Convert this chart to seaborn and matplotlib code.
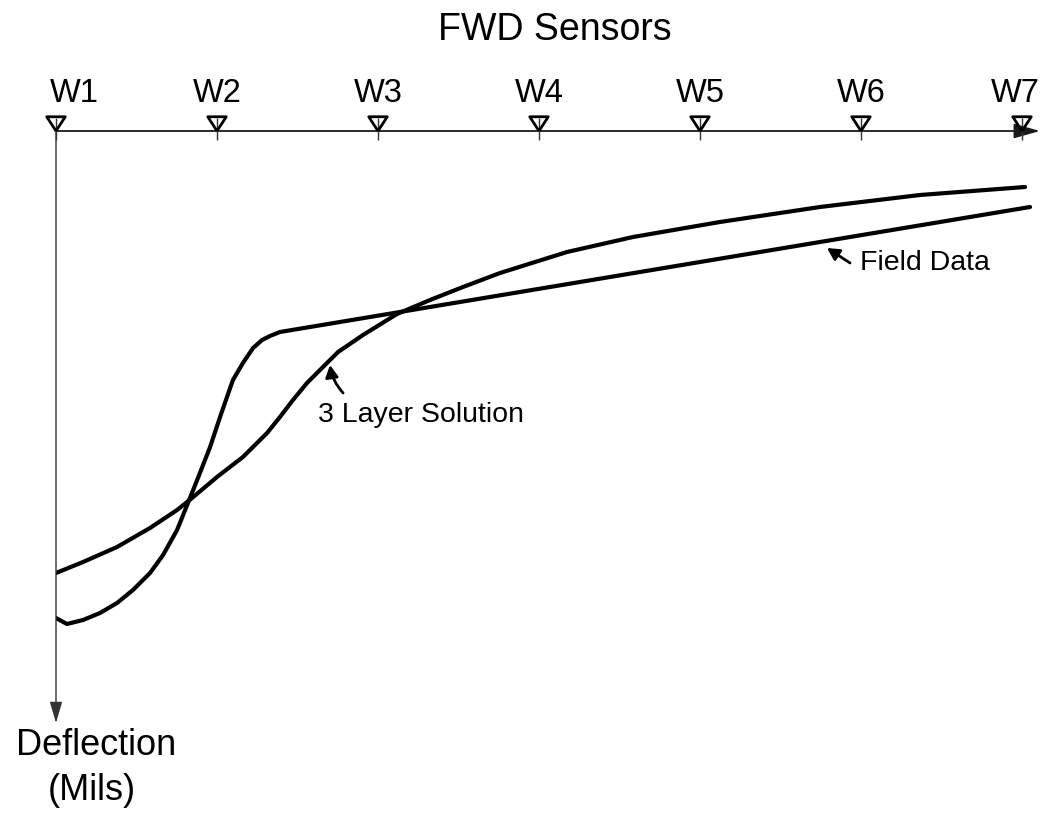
import numpy as np
import pandas as pd
import matplotlib
matplotlib.use("Agg")
import matplotlib.pyplot as plt
from matplotlib.markers import MarkerStyle
import seaborn as sns

# Sensor layout along the surface (sensor spacing units)
sensor_labels = ["W1", "W2", "W3", "W4", "W5", "W6", "W7"]
sensor_pos = [0, 1, 2, 3, 4, 5, 6]

# Measured deflection basin (deflection grows downward)
field_x = [0.000, 0.068, 0.168, 0.273, 0.379, 0.478, 0.584, 0.665, 0.752, 0.832,
           0.894, 0.957, 1.019, 1.062, 1.099, 1.161, 1.224, 1.280, 1.329, 1.391,
           6.050]
field_y = [24.35, 24.65, 24.45, 24.10, 23.60, 22.95, 22.10, 21.20, 19.95, 18.35,
           17.10, 15.80, 14.30, 13.30, 12.45, 11.60, 10.85, 10.45, 10.25, 10.05,
           3.80]

# Back-calculated three-layer elastic solution
layer_x = [0.000, 0.168, 0.379, 0.584, 0.752, 0.845, 1.000, 1.161, 1.311, 1.391,
           1.472, 1.559, 1.652, 1.752, 1.907, 2.118, 2.323, 2.528, 2.758, 3.174,
           3.584, 4.124, 4.745, 5.366, 6.019]
layer_y = [22.10, 21.55, 20.80, 19.85, 18.95, 18.35, 17.30, 16.30, 15.10, 14.30,
           13.45, 12.60, 11.85, 11.05, 10.20, 9.15, 8.45, 7.80, 7.10, 6.05,
           5.30, 4.55, 3.80, 3.20, 2.80]

field = pd.DataFrame({"sensor": field_x, "deflection": field_y})
layer = pd.DataFrame({"sensor": layer_x, "deflection": layer_y})

sns.set_theme(style="white")
plt.rcParams["font.family"] = ["Liberation Sans", "DejaVu Sans"]
plt.rcParams["text.color"] = "black"

fig = plt.figure(figsize=(10.46, 8.21), dpi=100)
W, H = 1046, 821
# axes box: x = 0 at the deflection axis, y = 0 at the sensor line
ax = fig.add_axes([56 / W, 1 - 723 / H, (1040 - 56) / W, (723 - 131) / H])
x_max = (1040 - 56) / 161
y_max = (723 - 131) / 20
ax.set_xlim(0, x_max)
ax.set_ylim(y_max, 0)
ax.set_axis_off()

line_kw = dict(color="black", linewidth=3.0, sort=False, estimator=None,
               legend=False, solid_joinstyle="round", solid_capstyle="round")
sns.lineplot(data=field, x="sensor", y="deflection", ax=ax, **line_kw)
sns.lineplot(data=layer, x="sensor", y="deflection", ax=ax, **line_kw)

# Axes drawn as arrows
ax.annotate("", xy=(x_max, 0), xytext=(0, 0), annotation_clip=False,
            arrowprops=dict(arrowstyle="-|>,head_length=1.6,head_width=0.45",
                            mutation_scale=10, color="#1a1a1a", lw=1.3,
                            shrinkA=0, shrinkB=0))
ax.annotate("", xy=(0, y_max), xytext=(0, 0), annotation_clip=False,
            arrowprops=dict(arrowstyle="-|>,head_length=1.3,head_width=0.38",
                            mutation_scale=10, color="#333333", lw=1.0,
                            shrinkA=0, shrinkB=0))

# Sensor symbols: inverted triangles resting on the surface line
ax.vlines(sensor_pos, -0.65, 0.45, color="#333333", lw=1.0, clip_on=False, zorder=4)
tri = MarkerStyle([(0, 0), (-0.65, 1), (0.65, 1), (0, 0)])
sns.scatterplot(x=sensor_pos, y=[0] * len(sensor_pos), ax=ax, marker=tri, s=420,
                facecolor="none", edgecolor="black", linewidth=2.0,
                clip_on=False, zorder=5, legend=False)

# Sensor labels
for i, (lab, pos) in enumerate(zip(sensor_labels, sensor_pos)):
    if i == 0:
        ax.text(pos - 0.04, -1.45, lab, ha="left", va="baseline", fontsize=23.5)
    elif i == len(sensor_labels) - 1:
        ax.text(pos + 0.11, -1.45, lab, ha="right", va="baseline", fontsize=23.5)
    else:
        ax.text(pos, -1.45, lab, ha="center", va="baseline", fontsize=23.5)

ax.text(3.1, -4.55, "FWD Sensors", ha="center", va="baseline", fontsize=27)
ax.text(0.248, 31.2, "Deflection", ha="center", va="baseline", fontsize=26)
ax.text(0.224, 33.45, "(Mils)", ha="center", va="baseline", fontsize=26)

# Curve callouts
arrow_kw = dict(arrowstyle="-|>,head_length=0.6,head_width=0.32",
                mutation_scale=12, color="black", lw=2.0, shrinkA=0, shrinkB=0)
ax.annotate("", xy=(1.702, 11.7), xytext=(1.783, 13.1),
            arrowprops=dict(connectionstyle="arc3,rad=-0.15", **arrow_kw))
ax.text(1.627, 14.55, "3 Layer Solution", ha="left", va="baseline", fontsize=20.5)

ax.annotate("", xy=(4.789, 5.85), xytext=(4.932, 6.6), arrowprops=arrow_kw)
ax.text(4.994, 6.95, "Field Data", ha="left", va="baseline", fontsize=20.5)

fig.savefig("out.png", dpi=100, facecolor="white")
